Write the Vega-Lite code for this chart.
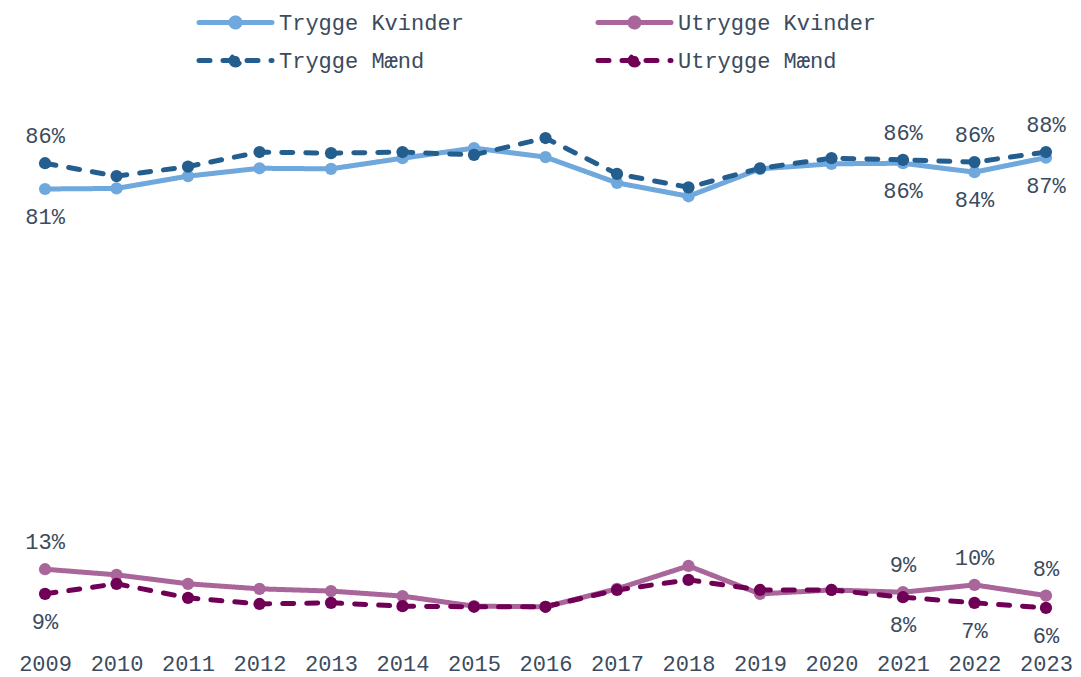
{
  "$schema": "https://vega.github.io/schema/vega-lite/v6.json",
  "autosize": {"type": "none"},
  "width": 1081,
  "height": 640,
  "padding": {"left": 0, "top": 0, "right": 0, "bottom": 37},
  "background": "white",
  "data": {
    "values": [
      {"year": 2009, "serie": "Trygge Kvinder", "value": 0.810},
      {"year": 2010, "serie": "Trygge Kvinder", "value": 0.811},
      {"year": 2011, "serie": "Trygge Kvinder", "value": 0.833},
      {"year": 2012, "serie": "Trygge Kvinder", "value": 0.847},
      {"year": 2013, "serie": "Trygge Kvinder", "value": 0.846},
      {"year": 2014, "serie": "Trygge Kvinder", "value": 0.865},
      {"year": 2015, "serie": "Trygge Kvinder", "value": 0.883},
      {"year": 2016, "serie": "Trygge Kvinder", "value": 0.867},
      {"year": 2017, "serie": "Trygge Kvinder", "value": 0.821},
      {"year": 2018, "serie": "Trygge Kvinder", "value": 0.797},
      {"year": 2019, "serie": "Trygge Kvinder", "value": 0.846},
      {"year": 2020, "serie": "Trygge Kvinder", "value": 0.855},
      {"year": 2021, "serie": "Trygge Kvinder", "value": 0.856},
      {"year": 2022, "serie": "Trygge Kvinder", "value": 0.840},
      {"year": 2023, "serie": "Trygge Kvinder", "value": 0.866},
      {"year": 2009, "serie": "Utrygge Kvinder", "value": 0.131},
      {"year": 2010, "serie": "Utrygge Kvinder", "value": 0.121},
      {"year": 2011, "serie": "Utrygge Kvinder", "value": 0.105},
      {"year": 2012, "serie": "Utrygge Kvinder", "value": 0.096},
      {"year": 2013, "serie": "Utrygge Kvinder", "value": 0.092},
      {"year": 2014, "serie": "Utrygge Kvinder", "value": 0.083},
      {"year": 2015, "serie": "Utrygge Kvinder", "value": 0.065},
      {"year": 2016, "serie": "Utrygge Kvinder", "value": 0.064},
      {"year": 2017, "serie": "Utrygge Kvinder", "value": 0.096},
      {"year": 2018, "serie": "Utrygge Kvinder", "value": 0.137},
      {"year": 2019, "serie": "Utrygge Kvinder", "value": 0.087},
      {"year": 2020, "serie": "Utrygge Kvinder", "value": 0.094},
      {"year": 2021, "serie": "Utrygge Kvinder", "value": 0.090},
      {"year": 2022, "serie": "Utrygge Kvinder", "value": 0.103},
      {"year": 2023, "serie": "Utrygge Kvinder", "value": 0.084},
      {"year": 2009, "serie": "Trygge Mænd", "value": 0.856},
      {"year": 2010, "serie": "Trygge Mænd", "value": 0.833},
      {"year": 2011, "serie": "Trygge Mænd", "value": 0.850},
      {"year": 2012, "serie": "Trygge Mænd", "value": 0.876},
      {"year": 2013, "serie": "Trygge Mænd", "value": 0.874},
      {"year": 2014, "serie": "Trygge Mænd", "value": 0.876},
      {"year": 2015, "serie": "Trygge Mænd", "value": 0.871},
      {"year": 2016, "serie": "Trygge Mænd", "value": 0.901},
      {"year": 2017, "serie": "Trygge Mænd", "value": 0.837},
      {"year": 2018, "serie": "Trygge Mænd", "value": 0.813},
      {"year": 2019, "serie": "Trygge Mænd", "value": 0.847},
      {"year": 2020, "serie": "Trygge Mænd", "value": 0.865},
      {"year": 2021, "serie": "Trygge Mænd", "value": 0.862},
      {"year": 2022, "serie": "Trygge Mænd", "value": 0.858},
      {"year": 2023, "serie": "Trygge Mænd", "value": 0.876},
      {"year": 2009, "serie": "Utrygge Mænd", "value": 0.087},
      {"year": 2010, "serie": "Utrygge Mænd", "value": 0.105},
      {"year": 2011, "serie": "Utrygge Mænd", "value": 0.080},
      {"year": 2012, "serie": "Utrygge Mænd", "value": 0.069},
      {"year": 2013, "serie": "Utrygge Mænd", "value": 0.071},
      {"year": 2014, "serie": "Utrygge Mænd", "value": 0.065},
      {"year": 2015, "serie": "Utrygge Mænd", "value": 0.064},
      {"year": 2016, "serie": "Utrygge Mænd", "value": 0.064},
      {"year": 2017, "serie": "Utrygge Mænd", "value": 0.094},
      {"year": 2018, "serie": "Utrygge Mænd", "value": 0.112},
      {"year": 2019, "serie": "Utrygge Mænd", "value": 0.094},
      {"year": 2020, "serie": "Utrygge Mænd", "value": 0.094},
      {"year": 2021, "serie": "Utrygge Mænd", "value": 0.081},
      {"year": 2022, "serie": "Utrygge Mænd", "value": 0.071},
      {"year": 2023, "serie": "Utrygge Mænd", "value": 0.062}
    ]
  },
  "encoding": {
    "x": {
      "field": "year",
      "type": "quantitative",
      "scale": {"domain": [2008.37, 2023.49], "nice": false, "zero": false},
      "axis": {
        "title": null,
        "values": [2009, 2010, 2011, 2012, 2013, 2014, 2015, 2016, 2017, 2018, 2019, 2020, 2021, 2022, 2023],
        "format": "d",
        "domain": false,
        "ticks": false,
        "grid": false,
        "labelFont": "Liberation Mono",
        "labelFontSize": 22,
        "labelColor": "#3b4b5e",
        "labelPadding": 13,
        "labelFlush": false,
        "labelOverlap": false
      }
    },
    "y": {
      "field": "value",
      "type": "quantitative",
      "scale": {"domain": [0.00464, 1.1475], "nice": false, "zero": false},
      "axis": null
    }
  },
  "layer": [
    {
      "mark": {
        "type": "line",
        "strokeWidth": 5,
        "strokeCap": "round",
        "strokeJoin": "round",
        "point": {"filled": true, "size": 150, "opacity": 1}
      },
      "encoding": {
        "color": {
          "field": "serie",
          "type": "nominal",
          "scale": {
            "domain": ["Trygge Kvinder", "Utrygge Kvinder", "Trygge Mænd", "Utrygge Mænd"],
            "range": ["#6fa8dc", "#a9669a", "#245e8e", "#700055"]
          },
          "legend": {
            "title": null,
            "orient": "none",
            "legendX": 223,
            "legendY": 10,
            "direction": "horizontal",
            "columns": 2,
            "columnPadding": 124,
            "rowPadding": 9,
            "padding": 0,
            "symbolType": "M-3.65,0H3.65M-0.45,0a0.45,0.45 0 1,0 0.9,0a0.45,0.45 0 1,0 -0.9,0",
            "symbolSize": 400,
            "symbolStrokeWidth": 5,
            "symbolOpacity": 1,
            "labelFont": "Liberation Mono",
            "labelFontSize": 22,
            "labelColor": "#3b4b5e",
            "labelOffset": 31,
            "labelLimit": 400,
            "encode": {
              "symbols": {
                "update": {
                  "fill": {"scale": "color", "field": "value"},
                  "fillOpacity": {"value": 1},
                  "strokeCap": {"value": "round"}
                }
              }
            }
          }
        },
        "strokeDash": {
          "field": "serie",
          "type": "nominal",
          "scale": {
            "domain": ["Trygge Kvinder", "Utrygge Kvinder", "Trygge Mænd", "Utrygge Mænd"],
            "range": [[1, 0], [1, 0], [11, 13], [11, 13]]
          },
          "legend": {
            "title": null,
            "orient": "none",
            "legendX": 223,
            "legendY": 10,
            "direction": "horizontal",
            "columns": 2,
            "columnPadding": 124,
            "rowPadding": 9,
            "padding": 0,
            "symbolType": "M-3.65,0H3.65M-0.45,0a0.45,0.45 0 1,0 0.9,0a0.45,0.45 0 1,0 -0.9,0",
            "symbolSize": 400,
            "symbolStrokeWidth": 5,
            "symbolOpacity": 1,
            "labelFont": "Liberation Mono",
            "labelFontSize": 22,
            "labelColor": "#3b4b5e",
            "labelOffset": 31,
            "labelLimit": 400,
            "encode": {
              "symbols": {
                "update": {
                  "fill": {"scale": "color", "field": "value"},
                  "fillOpacity": {"value": 1},
                  "strokeCap": {"value": "round"}
                }
              }
            }
          }
        }
      }
    },
    {
      "transform": [
        {"filter": {"field": "year", "oneOf": [2009, 2021, 2022, 2023]}},
        {"filter": {"field": "serie", "oneOf": ["Trygge Kvinder", "Utrygge Mænd"]}}
      ],
      "mark": {"type": "text", "font": "Liberation Mono", "fontSize": 22, "color": "#3b4b5e", "dy": 28, "baseline": "middle"},
      "encoding": {
        "text": {"field": "value", "type": "quantitative", "format": ".0%"}
      }
    },
    {
      "transform": [
        {"filter": {"field": "year", "oneOf": [2009, 2021, 2022, 2023]}},
        {"filter": {"field": "serie", "oneOf": ["Trygge Mænd", "Utrygge Kvinder"]}}
      ],
      "mark": {"type": "text", "font": "Liberation Mono", "fontSize": 22, "color": "#3b4b5e", "dy": -27, "baseline": "middle"},
      "encoding": {
        "text": {"field": "value", "type": "quantitative", "format": ".0%"}
      }
    }
  ],
  "config": {
    "view": {"stroke": null},
    "legend": {"padding": 0, "offset": 0}
  }
}
